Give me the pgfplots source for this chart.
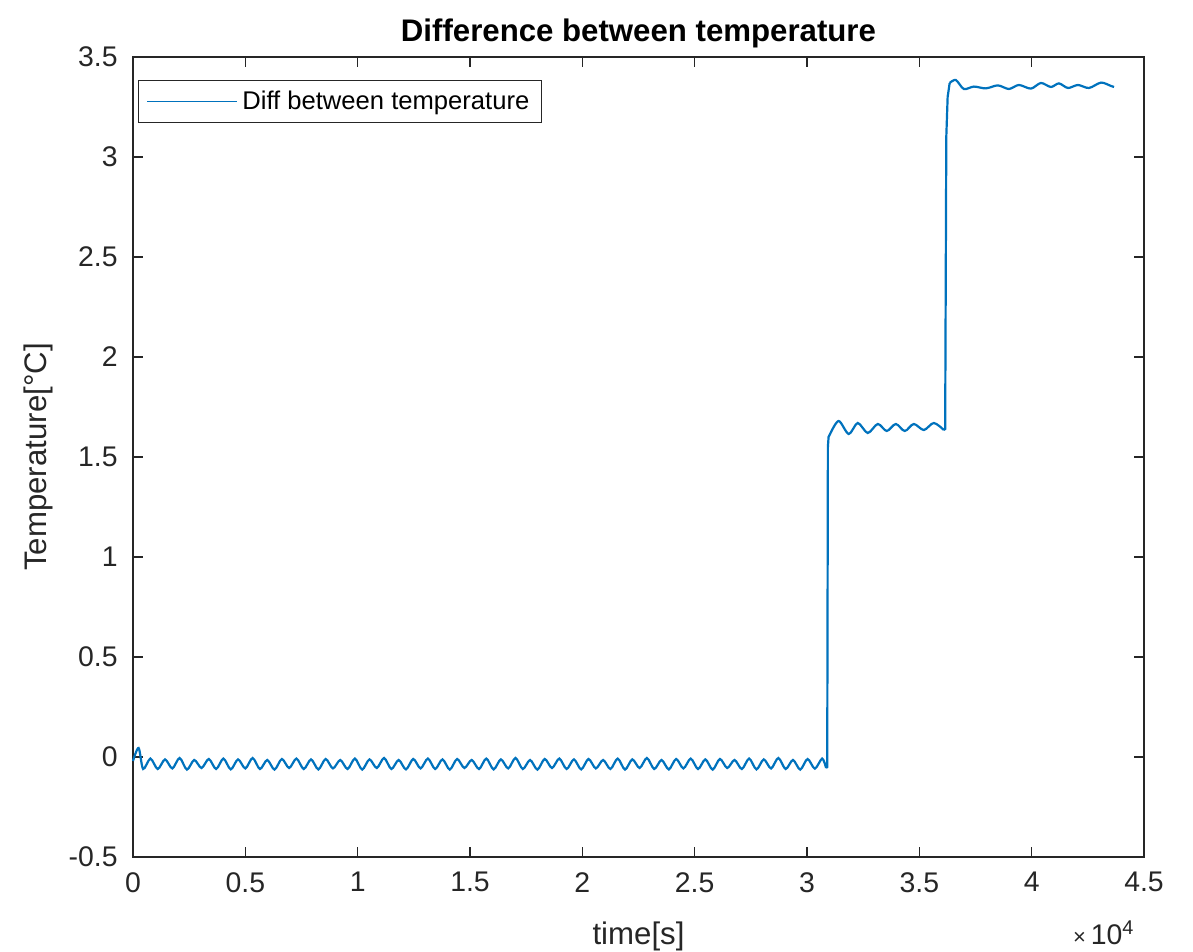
\documentclass[border=0pt]{standalone}
\usepackage{fontspec}
\setmainfont{Liberation Sans}
\usepackage{pgfplots}
\pgfplotsset{compat=1.18}
\definecolor{mlblue}{RGB}{0,114,189}
\definecolor{mlgray}{RGB}{38,38,38}
\begin{document}
\begin{tikzpicture}
\useasboundingbox (0,0) rectangle (596.5pt,476pt);
\begin{axis}[
  at={(66.5pt,47.5pt)}, anchor=south west,
  width=505.5pt, height=400pt, scale only axis,
  xmin=0, xmax=45000, ymin=-0.5, ymax=3.5,
  scaled x ticks=false,
  xtick={0,5000,10000,15000,20000,25000,30000,35000,40000,45000},
  xticklabels={0,0.5,1,1.5,2,2.5,3,3.5,4,4.5},
  ytick={-0.5,0,0.5,1,1.5,2,2.5,3,3.5},
  yticklabels={-0.5,0,0.5,1,1.5,2,2.5,3,3.5},
  tick label style={font=\fontsize{14.2}{17}\selectfont, text=mlgray},
  xticklabel style={anchor=north, inner sep=0pt, yshift=-7.5pt},
  yticklabel style={anchor=east, inner sep=0pt, xshift=-7.5pt},
  axis line style={mlgray, line width=0.7pt},
  every tick/.style={mlgray, line width=0.7pt},
  major tick length=5pt,
  title={\bfseries Difference between temperature},
  title style={font=\fontsize{15.6}{18}\selectfont, text=black, at={(0.5,1)}, anchor=base, yshift=1.5pt},
  xlabel={time[s]},
  xlabel style={font=\fontsize{15.6}{18}\selectfont, text=mlgray, at={(axis description cs:0.5,-0.11)}, anchor=base},
  ylabel={Temperature[°C]},
  ylabel style={font=\fontsize{15.6}{18}\selectfont, text=mlgray, at={(axis description cs:-0.094,0.5)}, anchor=center, rotate=0},
  legend style={at={(0.005,0.971)}, anchor=north west, draw=mlgray, line width=0.5pt,
    font=\fontsize{12.8}{15}\selectfont, text=black, fill=white,
    inner xsep=4pt, inner ysep=3pt, cells={anchor=west}},
  legend image code/.code={\draw[#1, line width=0.9pt] (0pt,0pt) -- (45pt,0pt);},
  clip=false,
]
% baseline
\addplot[mlblue, line width=1.1pt, smooth] coordinates {
(0,-0.02) (250,0.045) (450,-0.06)
(775,-0.008) (1100,-0.06) (1425,-0.012) (1750,-0.057) (2075,-0.005) (2400,-0.063)
(2725,-0.015) (3050,-0.055) (3375,-0.01) (3700,-0.06) (4025,-0.008) (4350,-0.062)
(4675,-0.012) (5000,-0.057) (5325,-0.005) (5650,-0.06) (5975,-0.015) (6300,-0.063)
(6625,-0.01) (6950,-0.055) (7275,-0.008) (7600,-0.06) (7925,-0.012) (8250,-0.062)
(8575,-0.01) (8900,-0.057) (9225,-0.015) (9550,-0.06) (9875,-0.008) (10200,-0.063)
(10525,-0.012) (10850,-0.055) (11175,-0.005) (11500,-0.06) (11825,-0.015) (12150,-0.062)
(12475,-0.01) (12800,-0.057) (13125,-0.008) (13450,-0.06) (13775,-0.012) (14100,-0.063)
(14425,-0.01) (14750,-0.055) (15075,-0.015) (15400,-0.06) (15725,-0.008) (16050,-0.062)
(16375,-0.012) (16700,-0.057) (17025,-0.005) (17350,-0.06) (17675,-0.015) (18000,-0.063)
(18325,-0.01) (18650,-0.055) (18975,-0.008) (19300,-0.06) (19625,-0.012) (19950,-0.062)
(20275,-0.01) (20600,-0.057) (20925,-0.015) (21250,-0.06) (21575,-0.008) (21900,-0.063)
(22225,-0.012) (22550,-0.055) (22875,-0.005) (23200,-0.06) (23525,-0.015) (23850,-0.062)
(24175,-0.01) (24500,-0.057) (24825,-0.008) (25150,-0.06) (25475,-0.012) (25800,-0.063)
(26125,-0.01) (26450,-0.055) (26775,-0.015) (27100,-0.06) (27425,-0.008) (27750,-0.062)
(28075,-0.012) (28400,-0.057) (28725,-0.005) (29050,-0.06) (29375,-0.015) (29700,-0.063)
(30025,-0.01) (30350,-0.058) (30675,-0.008) (30850,-0.055)
};
\addlegendentry{Diff between temperature}
% first step
\addplot[mlblue, line width=1.1pt, forget plot] coordinates {
(30850,-0.055) (30900,-0.05) (30930,1.55) (30960,1.60) (31050,1.62)
};
% first plateau
\addplot[mlblue, line width=1.1pt, smooth, forget plot] coordinates {
(31050,1.62) (31412,1.68) (31858,1.615) (32259,1.67) (32704,1.62) (33150,1.665)
(33551,1.63) (33952,1.665) (34353,1.63) (34754,1.665) (35199,1.635) (35645,1.67)
(36090,1.635)
};
% second step
\addplot[mlblue, line width=1.1pt, forget plot] coordinates {
(36090,1.635) (36150,1.64) (36200,3.1) (36260,3.30) (36350,3.37)
};
% second plateau
\addplot[mlblue, line width=1.1pt, smooth, forget plot] coordinates {
(36350,3.37) (36625,3.385) (36982,3.34) (37427,3.352) (37962,3.343) (38496,3.358)
(38987,3.34) (39432,3.36) (39967,3.342) (40412,3.37) (40858,3.35) (41214,3.368)
(41615,3.345) (42061,3.36) (42551,3.345) (43086,3.372) (43531,3.355) (43665,3.35)
};
\node[font=\fontsize{14.2}{17}\selectfont, text=mlgray, anchor=base east]
  at (axis description cs:0.9975,-0.11) {{\fontsize{11}{13}\selectfont ×}\,10\textsuperscript{4}};
\end{axis}
\end{tikzpicture}
\end{document}
